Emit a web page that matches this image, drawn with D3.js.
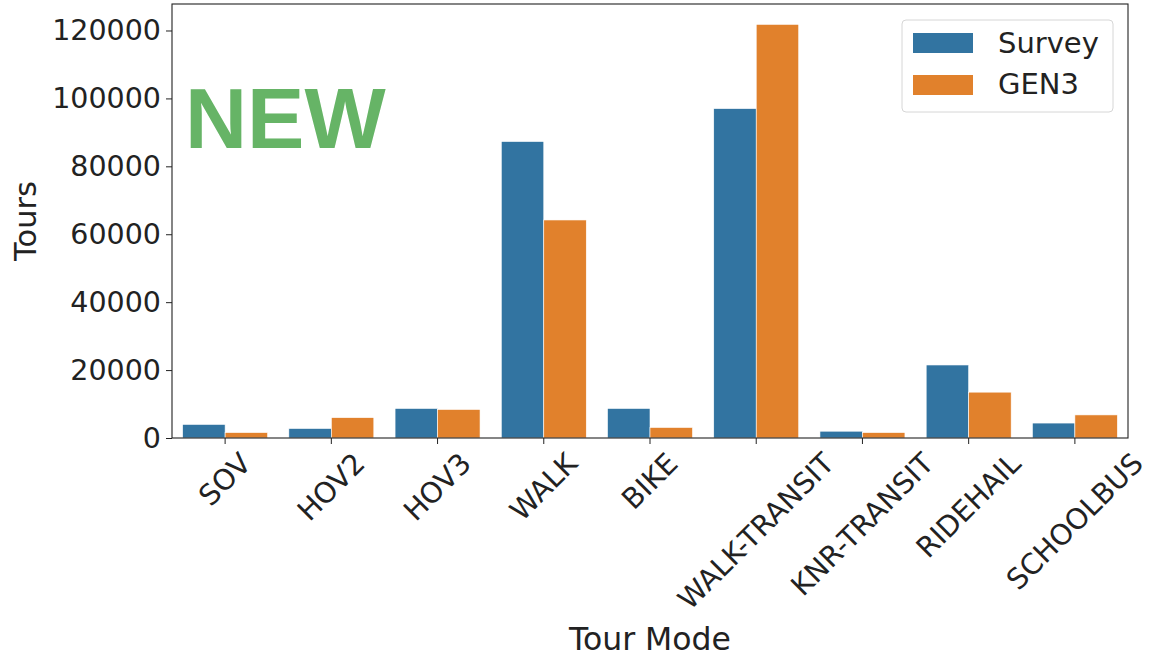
<!DOCTYPE html>
<html><head><meta charset="utf-8">
<script src="https://cdn.jsdelivr.net/npm/d3@7"></script>
<style>body{margin:0;background:#fff;} svg{display:block;}</style>
</head><body>
<svg id="c" width="1153" height="657"></svg>
<script>
const categories = ["SOV","HOV2","HOV3","WALK","BIKE","WALK-TRANSIT","KNR-TRANSIT","RIDEHAIL","SCHOOLBUS"];
const seriesNames = ["Survey","GEN3"];
const surveyValues = [4000, 2800, 8700, 87300, 8700, 97000, 2000, 21500, 4400];
const gen3Values = [1600, 6000, 8400, 64200, 3100, 121800, 1600, 13500, 6800];
const yTicks = [0, 20000, 40000, 60000, 80000, 100000, 120000];
const colors = ["#3274a1", "#e1812c"];

const svg = d3.select("#c");
const L = 172, R = 1128, T = 4, B = 438;
const TF = 28.5;
const x = d3.scaleBand().domain(categories).range([L, R]).paddingInner(0).paddingOuter(0);
const xs = d3.scaleBand().domain(seriesNames).range([0, x.bandwidth()]).paddingOuter(0.25);
const y = d3.scaleLinear().domain([0, 127800]).range([B, T]);

const data = categories.map((c, i) => ({c, vals: [surveyValues[i], gen3Values[i]]}));

// bars
const g = svg.append("g");
data.forEach(d => {
  d.vals.forEach((v, j) => {
    g.append("rect")
      .attr("x", x(d.c) + xs(seriesNames[j]))
      .attr("width", xs.bandwidth())
      .attr("y", y(v))
      .attr("height", B - y(v))
      .attr("fill", colors[j])
      .attr("stroke", "#fff").attr("stroke-width", 0.6);
  });
});

// y axis
const ya = svg.append("g").attr("transform", `translate(${L},0)`)
  .call(d3.axisLeft(y).tickValues(yTicks).tickFormat(d3.format("d")).tickSize(6).tickPadding(5));
ya.select(".domain").remove();
ya.selectAll("line").attr("stroke", "#222").attr("stroke-width", 1);
ya.selectAll("text").attr("font-family", "DejaVu Sans").attr("font-size", TF).attr("fill", "#222");

// x axis
const xa = svg.append("g").attr("transform", `translate(0,${B})`)
  .call(d3.axisBottom(x).tickSize(6).tickPadding(5));
xa.select(".domain").remove();
xa.selectAll("line").attr("stroke", "#222").attr("stroke-width", 1);
xa.selectAll("text").remove();
categories.forEach(c => {
  const cx = x(c) + x.bandwidth() / 2;
  const t = svg.append("text")
    .attr("font-family", "DejaVu Sans").attr("font-size", TF).attr("fill", "#222")
    .attr("text-anchor", "middle").attr("dominant-baseline", "central")
    .text(c);
  const w = t.node().getComputedTextLength();
  const h = TF * 0.95;
  const bw = (w + h) * Math.SQRT1_2;
  const topY = B + 11;
  t.attr("transform", `translate(${cx},${topY + bw / 2}) rotate(-45)`);
});

// frame
svg.append("rect").attr("x", L).attr("y", T).attr("width", R - L).attr("height", B - T)
  .attr("fill", "none").attr("stroke", "#222").attr("stroke-width", 1.1);

// axis labels
svg.append("text").attr("x", (L + R) / 2).attr("y", 650)
  .attr("text-anchor", "middle").attr("font-family", "DejaVu Sans").attr("font-size", 31.5).attr("fill", "#222")
  .text("Tour Mode");
svg.append("text").attr("transform", `translate(36,${(T + B) / 2}) rotate(-90)`)
  .attr("text-anchor", "middle").attr("font-family", "DejaVu Sans").attr("font-size", 30.5).attr("fill", "#222")
  .text("Tours");

// legend
const lg = svg.append("g");
lg.append("rect").attr("x", 902).attr("y", 20).attr("width", 211).attr("height", 92).attr("rx", 4)
  .attr("fill", "#fff").attr("fill-opacity", 0.8).attr("stroke", "#d6d6d6").attr("stroke-width", 1);
seriesNames.forEach((s, j) => {
  lg.append("rect").attr("x", 913).attr("y", 33 + j * 42).attr("width", 60).attr("height", 20)
    .attr("fill", colors[j]);
  lg.append("text").attr("x", 998).attr("y", 53 + j * 41)
    .attr("font-family", "DejaVu Sans").attr("font-size", 29).attr("fill", "#222").text(s);
});

// NEW overlay
svg.append("text").attr("x", 185).attr("y", 148)
  .attr("font-family", "Liberation Sans").attr("font-weight", "bold").attr("font-size", 86)
  .attr("fill", "#66b466").text("NEW");
</script>
</body></html>
